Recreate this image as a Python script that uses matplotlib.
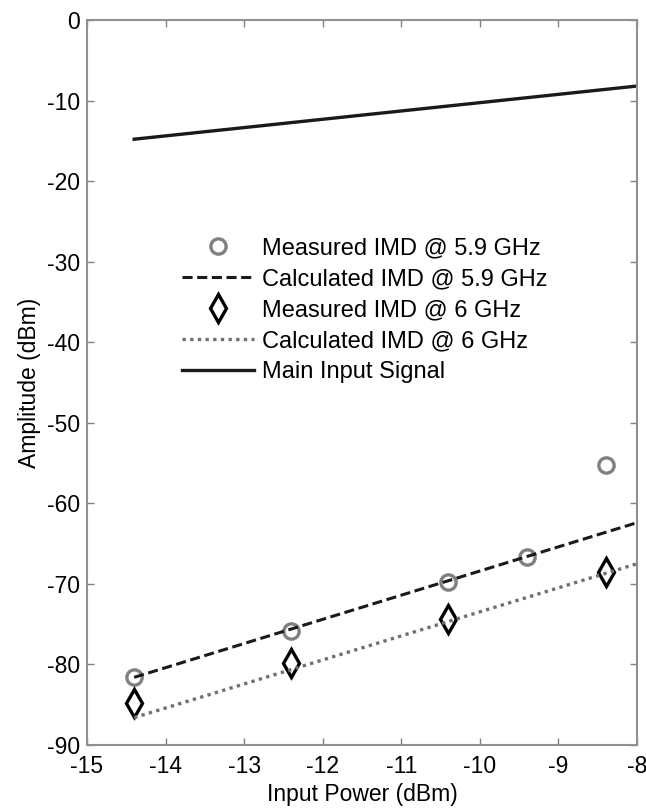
import matplotlib
matplotlib.use("Agg")
import matplotlib.pyplot as plt

plt.rcParams['font.family'] = ['Liberation Sans', 'DejaVu Sans']
plt.rcParams['axes.unicode_minus'] = False

x_meas = [-14.4, -12.4, -10.4, -9.4, -8.4]
imd59_meas = [-81.6, -75.9, -69.8, -66.6, -55.3]
x_meas6 = [-14.4, -12.4, -10.4, -8.4]
imd6_meas = [-84.8, -79.8, -74.3, -68.5]
x_calc = [-14.4, -8.0]
imd59_calc = [-81.6, -62.4]
imd6_calc = [-86.6, -67.5]
main_sig = [-14.8, -8.2]

xticks = [-15, -14, -13, -12, -11, -10, -9, -8]
yticks = [0, -10, -20, -30, -40, -50, -60, -70, -80, -90]

fig = plt.figure(figsize=(6.46, 8.09), dpi=100)
ax = fig.add_axes([0.1347, 0.0791, 0.8514, 0.8962])

h1, = ax.plot(x_meas, imd59_meas, linestyle='none', marker='o', markersize=11,
              markerfacecolor='none', markeredgecolor='#808080', markeredgewidth=2.4)
h2, = ax.plot(x_calc, imd59_calc, linestyle=(0, (3.3, 1.5)), color='#1a1a1a', linewidth=2.2)
h3, = ax.plot(x_meas6, imd6_meas, linestyle='none', marker='d', markersize=14,
              markerfacecolor='none', markeredgecolor='black', markeredgewidth=2.4)
h4, = ax.plot(x_calc, imd6_calc, linestyle=(0, (1.0, 1.3)), color='#707070', linewidth=2.4)
h5, = ax.plot(x_calc, main_sig, linestyle='-', color='#1a1a1a', linewidth=2.4)

ax.set_xlim(-15, -8)
ax.set_ylim(-90, 0)
ax.set_xticks(xticks)
ax.set_yticks(yticks)
ax.tick_params(direction='in', top=True, right=True, length=5, width=1,
               color='#808080', labelsize=16.5, pad=5)
ax.tick_params(axis='x', pad=7)
for s in ax.spines.values():
    s.set_color('#909090')
    s.set_linewidth(1.5)
ax.set_xlabel('Input Power (dBm)', fontsize=16.5, labelpad=4)
ax.set_ylabel('Amplitude (dBm)', fontsize=16.5, labelpad=4)

ax.legend([h1, h2, h3, h4, h5],
          ['Measured IMD @ 5.9 GHz', 'Calculated IMD @ 5.9 GHz', 'Measured IMD @ 6 GHz',
           'Calculated IMD @ 6 GHz', 'Main Input Signal'],
          frameon=False, fontsize=17, handlelength=3.05, handletextpad=0.35,
          labelspacing=0.38, loc='center', bbox_to_anchor=(0.505, 0.6))

fig.savefig('out.png', dpi=100)
